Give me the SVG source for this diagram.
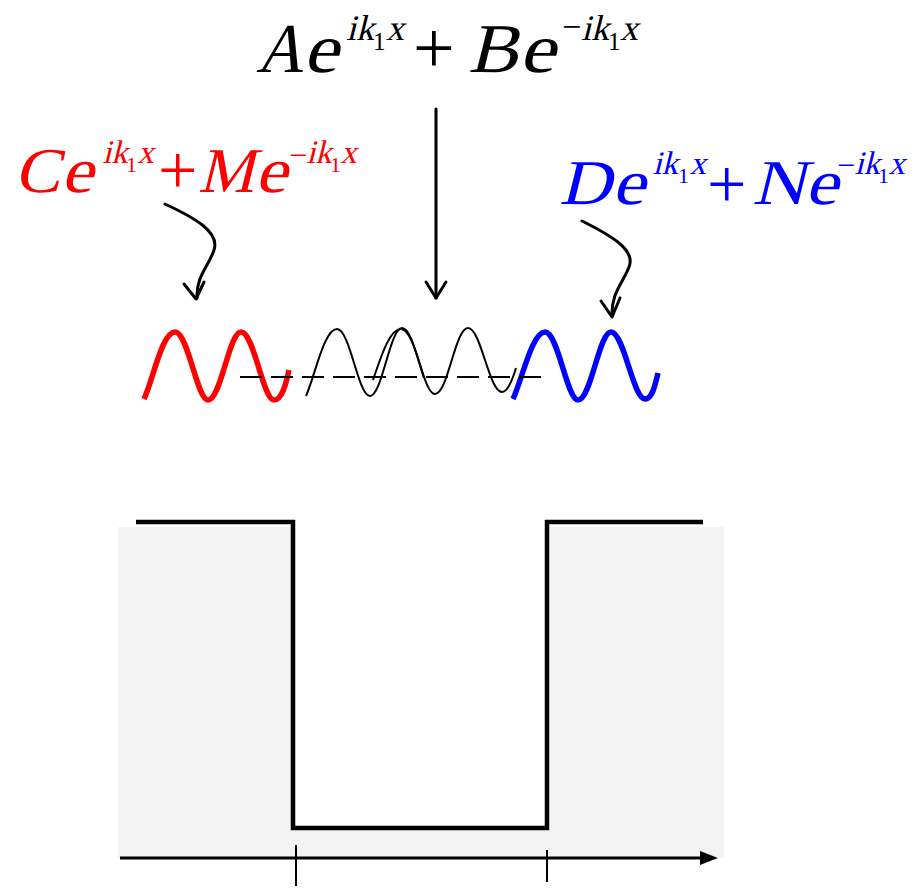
<svg xmlns="http://www.w3.org/2000/svg" width="914" height="888" viewBox="0 0 914 888">
<style>
text{font-family:"Liberation Serif","Times New Roman",serif;font-style:normal}
.mt{font-size:70px}
.m{font-size:64px}
.st{font-size:36px}
.s{font-size:33px}
.subt{font-size:25px}
.sub{font-size:22px}
.plt{font-size:74px}
.pl{font-size:70px}
.mit{font-size:34px}
.mi{font-size:32px}
.arr{fill:none;stroke:#000;stroke-width:3;stroke-linecap:round;stroke-linejoin:round}
.well{fill:none;stroke:#000;stroke-width:4.5}
</style>
<rect width="914" height="888" fill="#fff"/>
<g id="background">
<rect x="118" y="527" width="173" height="331" fill="#f3f3f3"/>
<rect x="550" y="527" width="174" height="331" fill="#f3f3f3"/>
<rect x="291" y="828" width="259" height="30" fill="#f3f3f3"/>
</g>
<g id="eq-top" fill="#000">
<g transform="translate(0,72) skewX(-14)">
<text class="mt" x="256" y="0" textLength="47" lengthAdjust="spacingAndGlyphs">A</text>
<text class="mt" x="303" y="0" textLength="35" lengthAdjust="spacingAndGlyphs">e</text>
<text class="st" x="338" y="-32">i</text>
<text class="st" x="348" y="-32">k</text>
<text class="st" x="378" y="-32">x</text>
<text class="mt" x="468" y="0" textLength="50" lengthAdjust="spacingAndGlyphs">B</text>
<text class="mt" x="519" y="0" textLength="36" lengthAdjust="spacingAndGlyphs">e</text>
<text class="st" x="573" y="-32">i</text>
<text class="st" x="583" y="-32">k</text>
<text class="st" x="612" y="-32">x</text>
</g>
<text class="subt" x="373" y="50">1</text>
<text class="plt" x="413" y="73">+</text>
<text class="mit" x="562" y="38">−</text>
<text class="subt" x="608" y="50">1</text>
</g>
<g id="eq-left" fill="#ff0000">
<g transform="translate(0,192) skewX(-14)">
<text class="m" x="14" y="0" textLength="46" lengthAdjust="spacingAndGlyphs">C</text>
<text class="m" x="61" y="0" textLength="32" lengthAdjust="spacingAndGlyphs">e</text>
<text class="s" x="95" y="-29">i</text>
<text class="s" x="104" y="-29">k</text>
<text class="s" x="130" y="-29">x</text>
<text class="m" x="198" y="0" textLength="56" lengthAdjust="spacingAndGlyphs">M</text>
<text class="m" x="255" y="0" textLength="32" lengthAdjust="spacingAndGlyphs">e</text>
<text class="s" x="299" y="-29">i</text>
<text class="s" x="308" y="-29">k</text>
<text class="s" x="333" y="-29">x</text>
</g>
<text class="sub" x="126" y="172">1</text>
<text class="pl" x="158" y="194">+</text>
<text class="mi" x="289" y="166">−</text>
<text class="sub" x="330" y="172">1</text>
</g>
<g id="eq-right" fill="#0000ff">
<g transform="translate(0,204) skewX(-14)">
<text class="m" x="559" y="0" textLength="52" lengthAdjust="spacingAndGlyphs">D</text>
<text class="m" x="612" y="0" textLength="33" lengthAdjust="spacingAndGlyphs">e</text>
<text class="s" x="645" y="-30">i</text>
<text class="s" x="654" y="-30">k</text>
<text class="s" x="682" y="-30">x</text>
<text class="m" x="752" y="0" textLength="54" lengthAdjust="spacingAndGlyphs">N</text>
<text class="m" x="805" y="0" textLength="33" lengthAdjust="spacingAndGlyphs">e</text>
<text class="s" x="847" y="-30">i</text>
<text class="s" x="856" y="-30">k</text>
<text class="s" x="881" y="-30">x</text>
</g>
<text class="sub" x="878" y="183">1</text>
<text class="pl" x="707" y="208">+</text>
<text class="mi" x="837" y="176">−</text>
<text class="sub" x="678" y="183">1</text>
</g>
<g id="waves">
<path id="wave-red" fill="none" stroke="#ff0000" stroke-width="5.5" d="M144,399 C153,380 162,332 175,332 C188,332 197,400 208,400 C221,400 229,332 241,332 C254,332 263,400 274,400 C282,400 286,384 289,370"/>
<path id="wave-black" fill="none" stroke="#000" stroke-width="2" d="M306,396 C315,376 324,329 337,329 C350,329 358,396 370,396 C382,396 390,328 402,328 C415,328 423,394 435,394 C448,394 455,328 468,328 C481,328 489,392 502,392 C508,392 513,378 516,368"/>
<path fill="none" stroke="#000" stroke-width="2" d="M373,380 C380,360 389,329 401,329 C411,329 418,360 424,378"/>
<path id="wave-blue" fill="none" stroke="#0000ff" stroke-width="5.5" d="M513,399 C522,380 532,332 545,332 C558,332 567,400 578,400 C591,400 599,332 611,332 C624,332 633,399 645,399 C652,399 655,386 658,373"/>
<line x1="240" y1="377" x2="549" y2="377" stroke="#000" stroke-width="2" stroke-dasharray="22,9"/>
</g>
<g id="connectors">
<path class="arr" d="M436,109 L436,298"/>
<path class="arr" d="M426,282 L436,298 L446,282"/>
<path class="arr" d="M165,204 C195,218 220,232 214,250 C209,266 196,276 197,298"/>
<path class="arr" d="M184,284 L196,299 L204,282"/>
<path class="arr" d="M582,221 C612,236 636,250 629,267 C623,283 611,293 612,316"/>
<path class="arr" d="M601,301 L612,317 L620,298"/>
</g>
<g id="well">
<path class="well" d="M136,522 L293,522 L293,828 L547,828 L547,522 L703,522"/>
</g>
<g id="axis">
<line x1="120" y1="858" x2="706" y2="858" stroke="#000" stroke-width="3"/>
<polygon points="718,858 700,851 700,865" fill="#000"/>
<line x1="296" y1="845" x2="296" y2="886" stroke="#000" stroke-width="2"/>
<line x1="547" y1="850" x2="547" y2="882" stroke="#000" stroke-width="2"/>
</g>
</svg>
